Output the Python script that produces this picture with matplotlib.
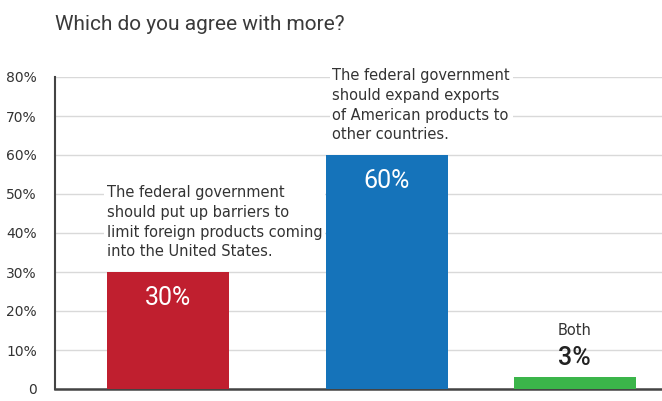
import matplotlib
matplotlib.use("Agg")
from matplotlib import pyplot as plt

# survey answers
answers = ["barriers", "exports", "both"]
shares = [30, 60, 3]
value_labels = ["30%", "60%", "3%"]
notes = [
    "The federal government\nshould put up barriers to\nlimit foreign products coming\ninto the United States.",
    "The federal government\nshould expand exports\nof American products to\nother countries.",
    "Both",
]
colors = ["#C01F2F", "#1573BA", "#3BB54A"]
xpos = [113, 331.5, 519.5]
yticks = [0, 10, 20, 30, 40, 50, 60, 70, 80]
ytick_labels = ["0", "10%", "20%", "30%", "40%", "50%", "60%", "70%", "80%"]

narrow = ["Roboto", "DejaVu Sans"]

fig = plt.figure(figsize=(6.62, 4.01), dpi=100)
ax = fig.add_axes([55 / 662, 1 - 389 / 401, 607 / 662, (389 - 77) / 401])

ax.bar(xpos, shares, width=122, color=colors, zorder=3)
ax.set_xlim(0, 607)
ax.set_ylim(0, 80)
ax.set_yticks(yticks)
ax.set_yticklabels(ytick_labels, family="DejaVu Sans", fontsize=10, color="#333333")
ax.tick_params(axis="y", length=0, pad=13)
ax.set_xticks([])
ax.grid(axis="y", color="#d9d9d9", linewidth=1, zorder=0)
for s in ["top", "right"]:
    ax.spines[s].set_visible(False)
ax.spines["left"].set_color("#444444")
ax.spines["left"].set_linewidth(1.5)
ax.spines["bottom"].set_color("#444444")
ax.spines["bottom"].set_linewidth(1.8)

# value labels
for x, v, lab, c in zip(xpos, shares, value_labels, colors):
    if v > 10:
        ax.text(x, v - 6.6, lab, ha="center", va="center", color="white",
                fontsize=18, family=narrow, zorder=4)
    else:
        ax.text(x, v + 5, lab, ha="center", va="center", color="#222222",
                fontsize=18, family=narrow, weight="medium", zorder=4)

# descriptions
box = dict(facecolor="white", edgecolor="none", pad=2)
ax.text(xpos[0] - 61, 33.3, notes[0], ha="left", va="bottom", fontsize=10.5,
        family="DejaVu Sans", color="#333333", linespacing=1.38, bbox=box, zorder=4)
ax.text(xpos[1] - 54, 63.3, notes[1], ha="left", va="bottom", fontsize=10.5,
        family="DejaVu Sans", color="#333333", linespacing=1.38, bbox=box, zorder=4)
ax.text(xpos[2], 15, notes[2], ha="center", va="center", fontsize=10.5,
        family="DejaVu Sans", color="#333333", bbox=box, zorder=4)

fig.text(55 / 662, 1 - 25 / 401, "Which do you agree with more?", ha="left",
         va="center", fontsize=15, family=narrow, color="#3a3a3a")

fig.savefig("out.png", dpi=100)
